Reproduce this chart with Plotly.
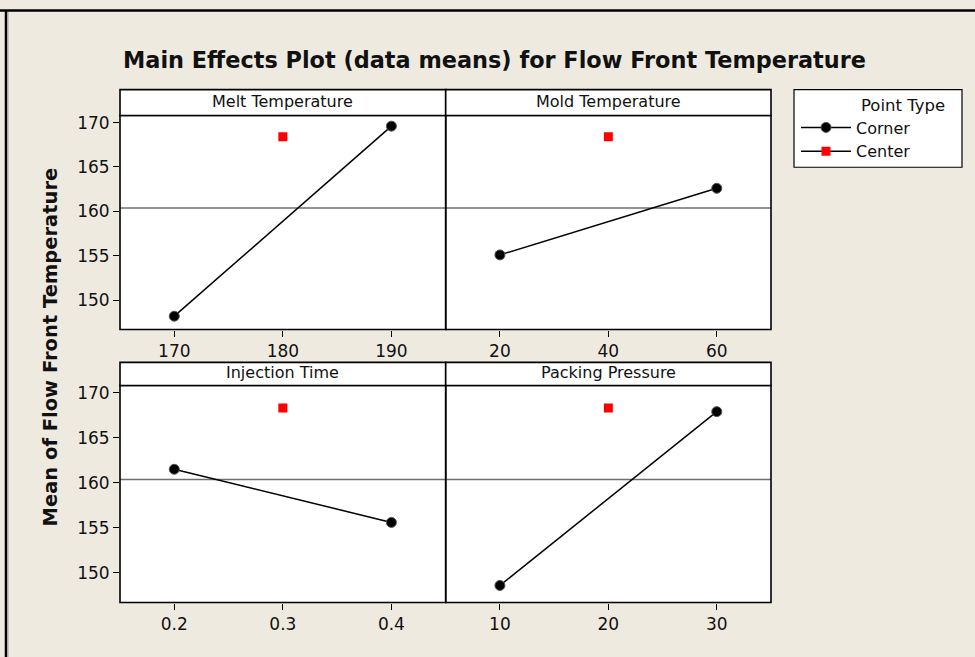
import plotly.graph_objects as go

# ---------------- data ----------------
factors = ["Melt Temperature", "Mold Temperature", "Injection Time", "Packing Pressure"]
corner_levels = [[170, 190], [20, 60], [0.2, 0.4], [10, 30]]
corner_means = [[148.2, 169.6], [155.1, 162.6], [161.5, 155.6], [148.6, 167.9]]
center_levels = [180, 40, 0.3, 20]
center_means = [168.4, 168.4, 168.3, 168.3]
grand_mean = 160.37
x_ticks = [[170, 180, 190], [20, 40, 60], [0.2, 0.3, 0.4], [10, 20, 30]]
x_tick_labels = [["170", "180", "190"], ["20", "40", "60"], ["0.2", "0.3", "0.4"], ["10", "20", "30"]]
x_ranges = [[165, 195], [10, 70], [0.15, 0.45], [5, 35]]
y_ticks = [150, 155, 160, 165, 170]
y_range = [146.7, 170.8]

W, H = 975, 657
FONT = "DejaVu Sans"
BG = "#EEEAE0"

def px(x):
    return x / W

def py(y):
    return 1 - y / H

# panel geometry in pixels
col_x = [(120, 445.7), (445.7, 771)]
row_y = [(113, 328), (384.3, 602.3)]   # plot areas
strip_y = [(87, 113), (361, 384.3)]

fig = go.Figure()
shapes = []
annotations = []

for i in range(4):
    r, c = divmod(i, 2)
    n = "" if i == 0 else str(i + 1)
    xa, ya = "x" + n, "y" + n
    # corner points
    fig.add_trace(go.Scatter(
        x=corner_levels[i], y=corner_means[i], xaxis=xa, yaxis=ya,
        mode="lines+markers", name="Corner", legendgroup="corner",
        showlegend=(i == 0),
        line=dict(color="black", width=1.5),
        marker=dict(symbol="circle", size=10, color="black",
                    line=dict(color="#555", width=1)),
    ))
    # center point
    fig.add_trace(go.Scatter(
        x=[center_levels[i]], y=[center_means[i]], xaxis=xa, yaxis=ya,
        mode="lines+markers", name="Center", legendgroup="center",
        showlegend=(i == 0),
        line=dict(color="black", width=1.5),
        marker=dict(symbol="square", size=9, color="#FF0000"),
    ))
    x0, x1 = col_x[c]
    y0, y1 = row_y[r]
    fig.layout["xaxis" + n] = dict(
        domain=[px(x0), px(x1)], range=x_ranges[i], anchor=ya,
        tickmode="array", tickvals=x_ticks[i], ticktext=x_tick_labels[i],
        ticks="outside", ticklen=6, tickcolor="black", tickwidth=1,
        showline=False, showgrid=False, zeroline=False,
        tickfont=dict(family=FONT, size=17, color="#111"),
    )
    fig.layout["yaxis" + n] = dict(
        domain=[py(y1), py(y0)], range=y_range, anchor=xa,
        tickmode="array", tickvals=y_ticks if c == 0 else [],
        ticks="outside" if c == 0 else "", ticklen=6, tickcolor="black", tickwidth=1,
        showticklabels=(c == 0),
        showline=False, showgrid=False, zeroline=False,
        tickfont=dict(family=FONT, size=17, color="#111"),
    )
    # reference line at grand mean
    shapes.append(dict(type="line", xref=xa + " domain", yref=ya,
                       x0=0, x1=1, y0=grand_mean, y1=grand_mean,
                       line=dict(color="#6e6e6e", width=1.5), layer="below"))
    # panel frame
    shapes.append(dict(type="rect", xref="paper", yref="paper",
                       x0=px(x0), x1=px(x1), y0=py(y1), y1=py(y0),
                       fillcolor="rgba(0,0,0,0)", line=dict(color="black", width=1.6)))
    # strip header
    s0, s1 = strip_y[r]
    shapes.append(dict(type="rect", xref="paper", yref="paper",
                       x0=px(x0), x1=px(x1), y0=py(s1), y1=py(s0),
                       fillcolor="white", line=dict(color="black", width=1.6)))
    annotations.append(dict(text=factors[i], xref="paper", yref="paper",
                            x=px((x0 + x1) / 2), y=py((s0 + s1) / 2 - 1),
                            xanchor="center", yanchor="middle", showarrow=False,
                            font=dict(family=FONT, size=16, color="#111")))

# legend box
shapes.append(dict(type="rect", xref="paper", yref="paper",
                   x0=px(794), x1=px(962), y0=py(165), y1=py(87),
                   fillcolor="white", line=dict(color="black", width=1.2), layer="below"))
annotations.append(dict(text="Point Type", xref="paper", yref="paper",
                        x=px(903), y=py(103), xanchor="center", yanchor="middle",
                        showarrow=False, font=dict(family=FONT, size=16.5, color="#111")))

# outer frame
shapes.append(dict(type="line", xref="paper", yref="paper", x0=0, x1=1,
                   y0=py(7.5), y1=py(7.5), line=dict(color="black", width=2.5)))
shapes.append(dict(type="line", xref="paper", yref="paper", x0=px(6), x1=px(6),
                   y0=0, y1=py(7), line=dict(color="black", width=2.5)))
shapes.append(dict(type="line", xref="paper", yref="paper", x0=px(8), x1=px(8),
                   y0=0, y1=py(9), line=dict(color="#a0a0a0", width=1)))

# title + y-axis title
annotations.append(dict(text="<b>Main Effects Plot (data means) for Flow Front Temperature</b>",
                        xref="paper", yref="paper", x=px(494), y=py(57),
                        xanchor="center", yanchor="middle", showarrow=False,
                        font=dict(family=FONT, size=22.4, color="#111")))
annotations.append(dict(text="<b>Mean of Flow Front Temperature</b>",
                        xref="paper", yref="paper", x=px(50), y=py(346),
                        xanchor="center", yanchor="middle", showarrow=False, textangle=-90,
                        font=dict(family=FONT, size=19.5, color="#111")))

fig.update_layout(
    width=W, height=H,
    margin=dict(l=0, r=0, t=0, b=0),
    paper_bgcolor=BG, plot_bgcolor="white",
    shapes=shapes, annotations=annotations,
    showlegend=True,
    legend=dict(x=px(796), y=py(108), xanchor="left", yanchor="top",
                bgcolor="rgba(0,0,0,0)", borderwidth=0,
                font=dict(family=FONT, size=16, color="#111"),
                itemwidth=50, tracegroupgap=0),
)

fig.write_html("out.html")
